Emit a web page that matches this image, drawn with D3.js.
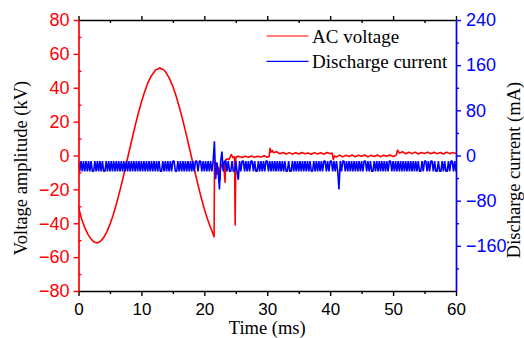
<!DOCTYPE html>
<html>
<head>
<meta charset="utf-8">
<script src="https://cdn.jsdelivr.net/npm/d3@7"></script>
<style>
  body { margin: 0; background: #fff; }
  svg { display: block; }
  .axis-title, .legend text { font-family: 'Liberation Serif', 'Times New Roman', serif; }
  .axis-title { font-size: 18.5px; }
  .legend text { font-size: 19px; }
</style>
</head>
<body>
<svg id="chart"></svg>
<script>
// axes
const timeDomain = [0, 60];
const voltageDomain = [-80, 80];
const currentDomain = [-240, 240];
const timeTicks = [0, 10, 20, 30, 40, 50, 60];
const timeMinorTicks = [5, 15, 25, 35, 45, 55];
const voltageTicks = [-80, -60, -40, -20, 0, 20, 40, 60, 80];
const voltageMinorTicks = [-70, -50, -30, -10, 10, 30, 50, 70];
const currentTicks = [-160, -80, 0, 80, 160, 240];
const currentMinorTicks = [-200, -120, -40, 40, 120, 200];
const seriesNames = ['AC voltage', 'Discharge current'];

// AC voltage, [time ms, kV]
const voltagePoints = [
  [0, -30.5], [0.5, -37.5], [1, -42.6], [1.5, -46.6], [2, -49.4], [2.5, -51.1], [3, -51.6], [3.5, -50.6],
  [4, -48.5], [4.5, -45.1], [5, -40.7], [5.5, -35.3], [6, -28.9], [6.5, -21.9], [7, -14.4], [7.5, -6.5],
  [8, 1.6], [8.5, 9.6], [9, 17.5], [9.5, 24.8], [10, 31.6], [10.5, 37.5], [11, 42.6], [11.5, 46.6],
  [12, 49.2], [12.3, 50.8], [12.6, 50.9], [12.9, 51.8], [13.2, 51.1], [13.5, 50.8], [13.8, 49.6], [14, 48.5],
  [14.5, 45.1], [15, 40.7], [15.5, 35.3], [16, 28.9], [16.5, 21.9], [17, 14.4], [17.5, 6.5], [18, -1.6],
  [18.5, -9.6], [19, -17.5], [19.5, -24.8], [20, -31.6], [20.5, -37.5], [21, -42.6], [21.55, -47.9],
  [21.62, -3.5], [21.75, -8.5], [21.9, -6], [22.05, -11], [22.2, -7], [22.4, -9], [22.5, -14.5], [22.6, -5],
  [22.75, -7], [22.9, -4.5], [23.1, -6.5], [23.3, -15.8], [23.4, -2.5], [23.6, -2], [23.9, -2.4], [24.1, -0.8],
  [24.3, 0.6], [24.5, -1.2], [24.8, -0.8], [24.9, -41], [25, -1.2], [25.3, -0.4], [25.5, -0.6], [26, -1.2],
  [26.5, -0.4], [27, -1], [27.5, -0.3], [28, -1.1], [28.5, -0.5], [29, -0.9], [29.5, -0.2], [30, -1],
  [30.3, -0.6], [30.45, 4.2], [30.6, 2], [30.8, 3], [31, 1.6], [31.5, 2.2], [32, 1], [32.5, 1.8],
  [33, 0.9], [33.5, 1.7], [34, 0.8], [34.5, 1.6], [35, 0.9], [35.5, 1.8], [36, 1], [36.5, 1.5],
  [37, 0.7], [37.5, 1.7], [38, 0.9], [38.5, 1.6], [39, 0.8], [39.5, 1.8], [40, 1], [40.3, 1.5],
  [40.5, -2.3], [40.7, -0.2], [41, -1], [41.5, 0.2], [42, -0.8], [42.5, 0.1], [43, -0.6], [43.5, 0.3],
  [44, -0.7], [44.5, 0.2], [45, -0.5], [45.5, 0.3], [46, -0.8], [46.5, 0.1], [47, -0.6], [47.5, 0.3],
  [48, -0.7], [48.5, 0.2], [49, -0.5], [49.5, 0.3], [50, -0.6], [50.5, 0.1], [50.7, 3.2], [51, 1.4],
  [51.5, 2.2], [52, 1], [52.5, 1.9], [53, 1.1], [53.5, 2], [54, 0.9], [54.5, 1.8], [55, 1.2],
  [55.5, 2], [56, 1], [56.5, 1.9], [57, 1.1], [57.5, 1.8], [58, 0.9], [58.5, 2], [59, 1.1],
  [59.5, 1.8], [60, 1.2]
];

// discharge current, one sample every 0.2 ms, mA
const currentStepMs = 0.2;
const currentMA = [
  -10, -28, -10, -28, -10, -28, -10, -28, -10, -28, -10, -28, -28, -10, -28, -10, -28, -10, -28, -10,
  -28, -28, -10, -28, -10, -28, -10, -28, -10, -28, -10, -28, -10, -28, -10, -28, -10, -28, -10, -28,
  -10, -28, -10, -28, -10, -28, -10, -28, -10, -28, -10, -28, -10, -28, -10, -28, -10, -28, -10, -28,
  -10, -28, -10, -28, -10, -28, -28, -10, -28, -10, -28, -10, -28, -10, -28, -10, -10, -28, -28, -10,
  -28, -10, -28, -10, -28, -10, -28, -10, -28, -10, -28, -10, -28, -10, -10, -28, -10, -10, -28, -10,
  -28, -10, -28, -10, -28, -10, -28, -10, 25, -42, -12, -28, -60, -10, 7, -28, -10, -10, -28, -10,
  -28, -28, -10, -28, -28, -10, -28, -43, -10, -28, -10, -10, -28, -10, -28, -10, -28, -10, -10, -28,
  -10, -28, -28, -10, -28, -10, -28, -10, -28, -10, -10, -28, -10, -28, -10, -28, -10, -28, -10, -28,
  -10, -28, -10, -28, -10, -28, -28, -10, -28, -28, -10, -28, -10, -28, -10, -28, -10, -28, -10, -28,
  -10, -28, -10, -28, -10, -28, -28, -10, -28, -10, -28, -10, -28, -10, -28, -10, -10, -28, -10, -28,
  -10, -10, -28, -10, -28, -10, -28, -60, -10, -28, -10, -10, -28, -10, -28, -10, -28, -10, -28, -10,
  -28, -10, -28, -10, -28, -10, -28, -10, -10, -28, -10, -28, -10, -28, -28, -10, -28, -10, -28, -10,
  -28, -10, -28, -10, -28, -10, -28, -10, -10, -28, -10, -28, -10, -28, -10, -28, -10, -28, -10, -28,
  -10, -28, -10, -28, -10, -28, -10, -28, -10, -28, -10, -28, -28, -10, -28, -10, -10, -28, -10, -28,
  -10, -10, -28, -10, -28, -28, -10, -28, -28, -10, -28, -10, -28, -28, -10, -28, -10, -10, -28, -10,
  -28
];

class DualAxisChart {
  constructor(_config) {
    this.config = {
      parentElement: _config.parentElement,
      containerWidth: _config.containerWidth || 524,
      containerHeight: _config.containerHeight || 338,
      margin: _config.margin || { top: 20, right: 68, bottom: 47, left: 78.5 }
    };
    this.initApp();
  }

  initApp() {
    let app = this;
    app.width = app.config.containerWidth - app.config.margin.left - app.config.margin.right;
    app.height = app.config.containerHeight - app.config.margin.top - app.config.margin.bottom;

    app.xScale = d3.scaleLinear().domain(timeDomain).range([0, app.width]);
    app.yScale = d3.scaleLinear().domain(voltageDomain).range([app.height, 0]);
    app.y2Scale = d3.scaleLinear().domain(currentDomain).range([app.height, 0]);

    app.svg = d3.select(app.config.parentElement)
      .attr('width', app.config.containerWidth)
      .attr('height', app.config.containerHeight);
    app.chart = app.svg.append('g')
      .attr('transform', `translate(${app.config.margin.left},${app.config.margin.top})`);

    app.chart.append('clipPath').attr('id', 'plot-clip')
      .append('rect').attr('width', app.width).attr('height', app.height);
    app.marks = app.chart.append('g').attr('clip-path', 'url(#plot-clip)');
  }

  renderApp() {
    let app = this;
    const voltageLine = d3.line()
      .x(d => app.xScale(d[0]))
      .y(d => app.yScale(d[1]));
    const currentLine = d3.line()
      .x((d, i) => app.xScale(i * currentStepMs))
      .y(d => app.y2Scale(d));

    app.marks.append('path').datum(voltagePoints)
      .attr('d', voltageLine)
      .attr('fill', 'none').attr('stroke', '#ff0000').attr('stroke-width', 1.6)
      .attr('stroke-linejoin', 'round');
    app.marks.append('path').datum(currentMA)
      .attr('d', currentLine)
      .attr('fill', 'none').attr('stroke', '#0000ff').attr('stroke-width', 1.6)
      .attr('stroke-linejoin', 'bevel');

    // top frame with its ticks
    const top = app.chart.append('g')
      .call(d3.axisTop(app.xScale).tickValues(timeTicks).tickSize(4).tickSizeOuter(0).tickFormat(''));
    top.append('g')
      .call(d3.axisTop(app.xScale).tickValues(timeMinorTicks).tickSize(-3).tickFormat(''))
      .select('.domain').remove();
    app.styleAxis(top, '#000');

    // bottom axis
    const bottom = app.chart.append('g').attr('transform', `translate(0,${app.height})`)
      .call(d3.axisBottom(app.xScale).tickValues(timeTicks).tickSize(5).tickPadding(6.5).tickSizeOuter(0));
    bottom.append('g')
      .call(d3.axisBottom(app.xScale).tickValues(timeMinorTicks).tickSize(3).tickFormat(''))
      .select('.domain').remove();
    app.styleAxis(bottom, '#000');
    bottom.selectAll('text').attr('font-size', 17);

    // left axis (voltage)
    const left = app.chart.append('g')
      .call(d3.axisLeft(app.yScale).tickValues(voltageTicks).tickSize(5).tickPadding(4).tickSizeOuter(0));
    left.append('g')
      .call(d3.axisLeft(app.yScale).tickValues(voltageMinorTicks).tickSize(-3).tickFormat(''))
      .select('.domain').remove();
    app.styleAxis(left, '#ff0000');
    left.selectAll('text').attr('font-size', 18);

    // right axis (current)
    const right = app.chart.append('g').attr('transform', `translate(${app.width},0)`)
      .call(d3.axisRight(app.y2Scale).tickValues(currentTicks).tickSize(5).tickPadding(5).tickSizeOuter(0));
    right.append('g')
      .call(d3.axisRight(app.y2Scale).tickValues(currentMinorTicks).tickSize(3).tickFormat(''))
      .select('.domain').remove();
    app.styleAxis(right, '#0000ff');
    right.selectAll('text').attr('font-size', 18);

    // axis titles
    app.svg.append('text').attr('class', 'axis-title')
      .attr('transform', 'translate(27,168) rotate(-90)')
      .attr('text-anchor', 'middle').attr('fill', '#000')
      .text('Voltage amplitude (kV)');
    app.svg.append('text').attr('class', 'axis-title')
      .attr('transform', 'translate(520,170) rotate(-90)')
      .attr('text-anchor', 'middle').attr('fill', '#000')
      .text('Discharge current (mA)');
    app.svg.append('text').attr('class', 'axis-title')
      .attr('x', app.config.margin.left + app.width / 2).attr('y', 334)
      .attr('text-anchor', 'middle').attr('fill', '#000')
      .text('Time (ms)');

    // legend
    const legend = app.svg.append('g').attr('class', 'legend');
    const legendColors = ['#ff0000', '#0000ff'];
    seriesNames.forEach((name, i) => {
      const y = 36 + i * 25.3;
      legend.append('line')
        .attr('x1', 266.5).attr('x2', 308.5).attr('y1', y).attr('y2', y)
        .attr('stroke', legendColors[i]).attr('stroke-width', 1.2);
      legend.append('text')
        .attr('x', 312).attr('y', y + 6.5)
        .attr('fill', '#000')
        .text(name);
    });
  }

  styleAxis(g, color) {
    g.selectAll('.domain').attr('stroke', color).attr('stroke-width', 1.7);
    g.selectAll('line').attr('stroke', color).attr('stroke-width', 1.4);
    g.selectAll('text')
      .attr('fill', color)
      .attr('font-family', "'Liberation Sans', Arial, sans-serif");
  }
}

const chart = new DualAxisChart({ parentElement: '#chart' });
chart.renderApp();
</script>
</body>
</html>
